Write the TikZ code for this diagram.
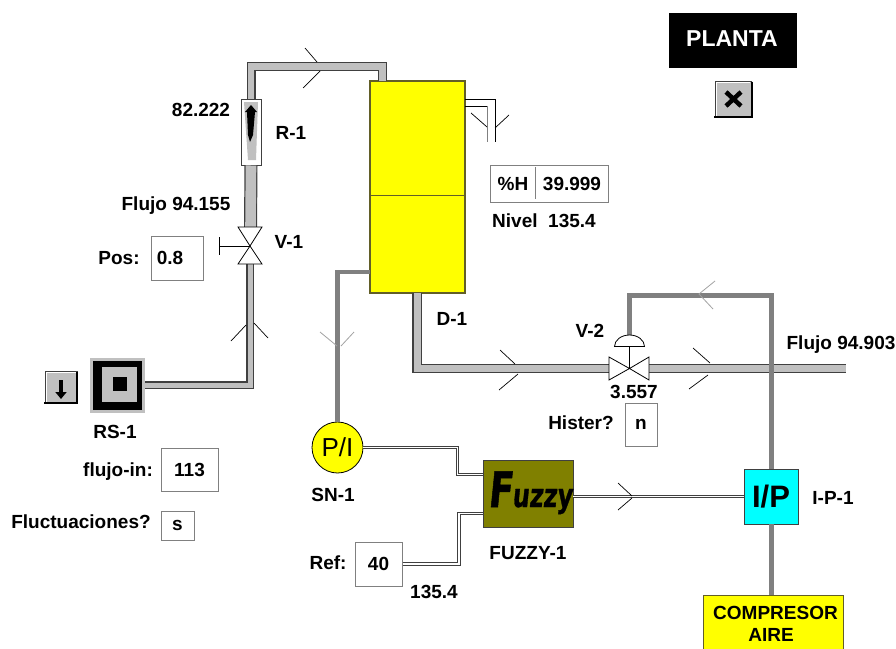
\documentclass[tikz,border=0pt]{standalone}
\usepackage{fontspec}
\setmainfont{Liberation Sans}
\newfontfamily\fuzzyfont[FakeSlant=0.1,FakeStretch=0.72,FakeBold=1]{DejaVu Sans}
\usepackage{xcolor}
\usetikzlibrary{arrows.meta, positioning, calc}
\definecolor{plgray}{HTML}{C0C0C0}
\definecolor{pldark}{HTML}{404040}
\definecolor{plair}{HTML}{808080}
\definecolor{plyellow}{HTML}{FFFF00}
\definecolor{plolive}{HTML}{808000}
\definecolor{plcyan}{HTML}{00FFFF}
\tikzset{
  tag/.style={font=\fontsize{19}{21}\selectfont\bfseries, inner sep=0pt},
  valbox/.style={draw=plair, line width=1pt, fill=white, font=\fontsize{19}{21}\selectfont\bfseries, inner sep=0pt},
  pipe/.style={draw=pldark, line width=1.2pt, double=plgray, double distance=#1},
  airline/.style={draw=plair, line width=5pt},
  wire/.style={draw=pldark, line width=1pt, double=white, double distance=1.6pt},
  tick/.style={draw=black, line width=0.7pt},
  airtick/.style={draw=plgray!85!black, line width=0.8pt},
  btn/.style={draw=pldark, line width=0.6pt, fill=plgray, inner sep=0pt},
}

\begin{document}
\begin{tikzpicture}[x=1pt, y=-1pt]
  \clip (0,0) rectangle (896,648);
  \fill[white] (0,0) rectangle (896,648);

  % Equipment
  \node[draw=olive!60!black, line width=1.2pt, fill=plyellow, minimum width=95pt, minimum height=212pt, inner sep=0pt] (d1) at (417.5,187) {};
  \draw[olive!60!black, line width=0.8pt] (d1.west |- 0,195) -- (d1.east |- 0,195);
  \node[draw=pldark, line width=1pt, fill=white, minimum width=20pt, minimum height=66pt, inner sep=0pt] (r1) at (251,132) {};
  \node[draw=none, fill=plgray, minimum size=55pt, inner sep=0pt] (rs1) at (117.5,385) {};
  \node[fill=black, minimum size=49pt, inner sep=0pt] (rs1b) at (117.5,385) {};
  \node[fill=plgray, minimum size=35pt, inner sep=0pt] (rs1c) at (119,384) {};
  \node[fill=black, minimum size=14pt, inner sep=0pt] (rs1d) at (119.5,383.5) {};
  \node[draw=black, line width=0.8pt, fill=plyellow, circle, minimum size=51pt, inner sep=0pt, font=\fontsize{26}{28}\selectfont] (sn1) at (337.5,447.5) {P/I};
  \node[draw=pldark, line width=0.8pt, fill=plolive, minimum width=90pt, minimum height=67pt, inner sep=0pt] (fuzzy1) at (528,493.5) {};
  \node[inner sep=0pt, anchor=base] (fuzzylogo) at (530,507) {\fuzzyfont\bfseries\fontsize{49}{50}\selectfont F\fontsize{33}{35}\selectfont uzzy};
  \node[draw=pldark, line width=0.8pt, fill=plcyan, minimum width=54pt, minimum height=55pt, inner sep=0pt, font=\fontsize{31}{33}\selectfont\bfseries] (ip1) at (771,496.5) {I/P};
  \node[draw=olive!60!black, line width=1pt, fill=plyellow, minimum width=140pt, minimum height=80pt, inner sep=0pt] (comp) at (773,635) {};

  % Value boxes
  \node[valbox, minimum width=52pt, minimum height=44pt] (posbox) at (177,258) {};
  \node[tag] (posval) at (170,258) {0.8};
  \node[valbox, minimum width=57pt, minimum height=43pt] (flujobox) at (189.5,469.5) {113};
  \node[valbox, minimum width=33pt, minimum height=29pt] (fluctbox) at (177.5,525.5) {s};
  \node[valbox, minimum width=47pt, minimum height=44pt] (refbox) at (378.5,564) {40};
  \node[valbox, minimum width=32pt, minimum height=43pt] (histbox) at (641,424.5) {n};
  \node[valbox, minimum width=118pt, minimum height=37pt] (nivelbox) at (549,183.5) {};
  \draw[plair, line width=1pt] (535,167) -- (535,199);
  \node[tag] (nivelh) at (513,184) {\%H};
  \node[tag] (nivelv) at (572,184) {39.999};

  % Valve centres and pipe points
  \coordinate (v1) at (250,246);
  \coordinate (v1top) at (250.5,228);
  \coordinate (v1bot) at (250,264);
  \coordinate (v2) at (629.5,368.5);
  \coordinate (v2in) at (609,368.5);
  \coordinate (v2out) at (649,368.5);
  \coordinate (v2dome) at (629.5,336);
  \coordinate (rtop) at (382.5,66.5);
  \coordinate (d1top) at (382.5,81);
  \coordinate (d1bot) at (417,293);
  \coordinate (d1left) at (370,272);
  \coordinate (flowend) at (846,368.5);
  \coordinate (airtop) at (771,295);
  \coordinate (w1) at (457.5,474.5);
  \coordinate (w2) at (459,513.5);

  % Process pipes
  \draw[pipe=6.6pt] (r1.north) |- (rtop) -- (d1top);
  \draw[pipe=10.6pt] (r1.south) -- (v1top);
  \draw[pipe=5pt] (rs1.east) -| (v1bot);
  \draw[pipe=7pt] (d1bot) |- (v2in);
  \draw[pipe=7pt] (v2out) -- (flowend);
  \draw[draw=plair, line width=4.5pt] (d1left) -| (sn1.north);

  % Vent on top of the tank
  \draw[black, line width=0.8pt] (465,99) -- (495,99) -- (495,142);
  \draw[black, line width=0.8pt] (465,106) -- (486.5,106);
  \draw[plair, line width=1pt] (487,106) -- (487,142);

  % Air and signal lines
  \draw[airline] (v2dome) |- (airtop) -- (ip1.north);
  \draw[airline] (ip1.south) -- (ip1.south |- comp.north);
  \draw[wire] (sn1.east) -| (w1) -- (w1 -| fuzzy1.west);
  \draw[wire] (refbox.east) -| (w2) -- (w2 -| fuzzy1.west);
  \draw[wire] (fuzzy1.east |- ip1.west) -- (ip1.west);

  % Flow ticks
  \draw[tick] (305,48) -- (317,62);
  \draw[tick] (303,88) -- (320,71);
  \draw[tick] (231,341) -- (246,325);
  \draw[tick] (268,338) -- (254,323);
  \draw[tick] (471,113) -- (487,127);
  \draw[tick] (509,115) -- (495,128);
  \draw[airtick] (320,332) -- (337,346);
  \draw[airtick] (354,332) -- (341,346);
  \draw[tick] (500,350) -- (515,364);
  \draw[tick] (499,390) -- (518,374);
  \draw[tick] (693,348) -- (710,363);
  \draw[tick] (689,389) -- (708,375);
  \draw[tick] (618,483) -- (632,496);
  \draw[tick] (618,510) -- (632,498);
  \draw[airtick] (715,281) -- (699,294) -- (713,309);

  % Rotameter insides
  \fill[plgray] (244,102) -- (258,102) -- (256,160) -- (248,160) -- cycle;
  \fill[black] (251,105) -- (257,112) -- (255,112) -- (253,135) -- (250,142) -- (248,135) -- (247,112) -- (245,112) -- cycle;

  % Valves
  \draw[black, line width=0.8pt, fill=white] (238,227) -- (262,227) -- (v1) -- cycle;
  \draw[black, line width=0.8pt, fill=white] (238,264) -- (262,264) -- (v1) -- cycle;
  \draw[black, line width=0.8pt] (219,246) -- (v1);
  \draw[black, line width=0.8pt] (219,237) -- (219,255);
  \draw[black, line width=0.8pt, fill=white] (609,357) -- (609,380) -- (v2) -- cycle;
  \draw[black, line width=0.8pt, fill=white] (649,357) -- (649,380) -- (v2) -- cycle;
  \draw[black, line width=0.8pt] (629.5,347) -- (v2);
  \draw[black, line width=0.8pt, fill=white] (644.5,346.5) arc[start angle=0, end angle=-180, x radius=15, y radius=11.5] -- cycle;

  % Buttons
  \node[fill=black, minimum width=128pt, minimum height=55pt, inner sep=0pt] (planta) at (733,40.5) {};
  \node[text=white, inner sep=0pt, font=\fontsize{23}{25}\selectfont\bfseries] (plantatxt) at (732,38.5) {PLANTA};
  \node[btn, minimum width=36pt, minimum height=36pt] (btnx) at (733.5,99) {};
  \draw[white, line width=1.2pt] (btnx.south west) ++(1.5,-1.5) |- ($(btnx.north east)+(-1.5,1.5)$);
  \draw[black, line width=2pt] (btnx.north east) ++(0,1) |- ($(btnx.south west)+(-1,0)$);
  \draw[black, line width=4.5pt] (726,92) -- (741,106);
  \draw[black, line width=4.5pt] (741,92) -- (726,106);
  \node[btn, minimum width=32pt, minimum height=32pt] (btndown) at (61,387) {};
  \draw[white, line width=1.2pt] (btndown.south west) ++(1.5,-1.5) |- ($(btndown.north east)+(-1.5,1.5)$);
  \draw[black, line width=2pt] (btndown.north east) ++(0,1) |- ($(btndown.south west)+(-1,0)$);
  \draw[black, line width=3.5pt, -{Triangle[width=11pt,length=7pt]}] (61,380) -- (61,399);

  % Labels
  \node[tag] (l82) at (201,110) {82.222};
  \node[tag] (lr1) at (291,133) {R-1};
  \node[tag] (lflujo1) at (176,206) {Flujo 94.155};
  \node[tag] (lv1) at (289,242) {V-1};
  \node[tag] (lpos) at (119,258) {Pos:};
  \node[tag] (lrs1) at (115,432) {RS-1};
  \node[tag] (lflujoin) at (118,472) {flujo-in:};
  \node[tag] (lfluct) at (81,522) {Fluctuaciones?};
  \node[tag] (lsn1) at (333,495) {SN-1};
  \node[tag] (lref) at (328,563) {Ref:};
  \node[tag] (l135) at (434,592) {135.4};
  \node[tag] (lfuzzy) at (528,553) {FUZZY-1};
  \node[tag] (lnivel) at (544,221) {Nivel~~135.4};
  \node[tag] (ld1) at (452,319) {D-1};
  \node[tag] (lv2) at (590,331) {V-2};
  \node[tag] (l3557) at (634,392) {3.557};
  \node[tag] (lhist) at (581,423) {Hister?};
  \node[tag] (lflujo2) at (841,345) {Flujo 94.903};
  \node[tag] (lip1) at (833,498) {I-P-1};
  \node[tag] (lcomp) at (775.5,613) {COMPRESOR};
  \node[tag] (laire) at (771,635) {AIRE};
\end{tikzpicture}
\end{document}
